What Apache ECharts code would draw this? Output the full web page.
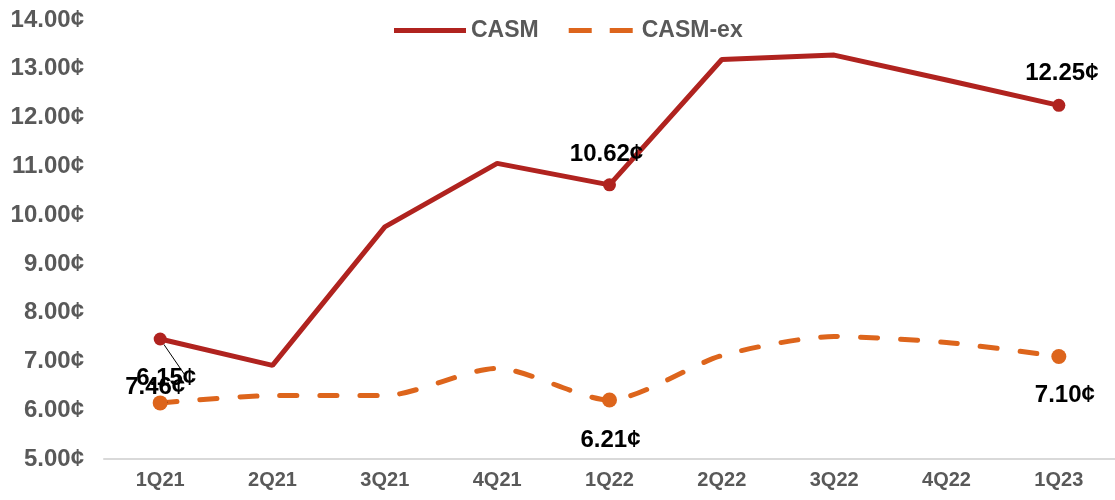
<!DOCTYPE html>
<html>
<head>
<meta charset="utf-8">
<script src="https://cdn.jsdelivr.net/npm/echarts@6/dist/echarts.min.js"></script>
<style>
  html, body { margin: 0; padding: 0; background: #fff; }
  #chart { width: 1115px; height: 500px; }
</style>
</head>
<body>
<div id="chart"></div>
<script>
// Quarterly unit cost, cents per available seat mile
const quarters = ['1Q21', '2Q21', '3Q21', '4Q21', '1Q22', '2Q22', '3Q22', '4Q22', '1Q23'];
const casm = [7.46, 6.92, 9.76, 11.06, 10.62, 13.19, 13.28, 12.77, 12.25];
const casmEx = [6.15, 6.30, 6.30, 6.86, 6.21, 7.12, 7.51, 7.39, 7.10];
// Quarters that carry a marker and a value label
const labelled = [0, 4, 8];

const RED = '#B0231F';
const ORANGE = '#DD651C';
const FONT = '"Liberation Sans", Arial, sans-serif';

const cents = v => v.toFixed(2) + '¢';

// Label placement per labelled quarter: [position, offset]
const casmLabelPlace = {
  0: ['bottom', [-5, 25]],
  4: ['top', [-3, -7]],
  8: ['top', [3, -8]]
};
const casmExLabelPlace = {
  0: ['top', [6, 0]],
  4: ['bottom', [1, 16]],
  8: ['bottom', [6, 14]]
};

function buildData(values, symbolSize, place) {
  return values.map((v, i) => {
    if (labelled.indexOf(i) < 0) return { value: v };
    const item = {
      value: v,
      symbol: 'circle',
      symbolSize: symbolSize,
      label: { show: true, position: place[i][0], offset: place[i][1] }
    };
    if (i === 0) {
      item.labelLine = { show: true, lineStyle: { color: '#000', width: 1 } };
    }
    return item;
  });
}

const chart = echarts.init(document.getElementById('chart'));
chart.setOption({
  animation: false,
  backgroundColor: '#fff',
  textStyle: { fontFamily: FONT },
  legend: {
    top: 14,
    left: 389,
    itemWidth: 72,
    itemHeight: 5,
    itemGap: 30,
    textStyle: { color: '#595959', fontWeight: 'bold', fontSize: 23, fontFamily: FONT },
    data: [
      { name: 'CASM', icon: 'path://M0,0h72v5h-72z' },
      { name: 'CASM-ex', icon: 'path://M0,0h23v5h-23z M41,0h23v5h-23z' }
    ]
  },
  grid: { left: 104, right: 0, top: 20, bottom: 41, containLabel: false },
  xAxis: {
    type: 'category',
    data: quarters,
    boundaryGap: true,
    axisLine: { lineStyle: { color: '#d9d9d9', width: 2 } },
    axisTick: { show: false },
    axisLabel: { color: '#595959', fontWeight: 'bold', fontSize: 20, margin: 11, fontFamily: FONT }
  },
  yAxis: {
    type: 'value',
    min: 5,
    max: 14,
    interval: 1,
    splitLine: { show: false },
    axisLine: { show: false },
    axisTick: { show: false },
    axisLabel: {
      color: '#595959', fontWeight: 'bold', fontSize: 24, margin: 20, fontFamily: FONT,
      formatter: v => cents(v)
    }
  },
  series: [
    {
      name: 'CASM',
      type: 'line',
      symbol: 'none',
      z: 3,
      lineStyle: { color: RED, width: 5 },
      itemStyle: { color: RED },
      label: {
        color: '#000', fontWeight: 'bold', fontSize: 24, fontFamily: FONT,
        formatter: p => cents(p.value)
      },
      data: buildData(casm, 13, casmLabelPlace)
    },
    {
      name: 'CASM-ex',
      type: 'line',
      symbol: 'none',
      smooth: 0.25,
      z: 2,
      lineStyle: { color: ORANGE, width: 5, type: [17, 23], cap: 'round' },
      itemStyle: { color: ORANGE },
      label: {
        color: '#000', fontWeight: 'bold', fontSize: 24, fontFamily: FONT,
        formatter: p => cents(p.value)
      },
      data: buildData(casmEx, 15, casmExLabelPlace)
    }
  ]
});
</script>
</body>
</html>
